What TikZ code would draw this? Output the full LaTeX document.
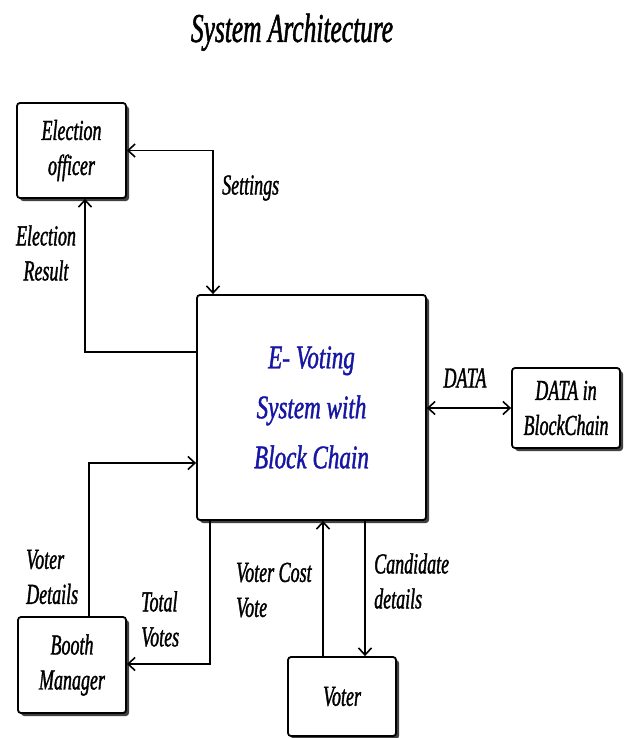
\documentclass[tikz,border=0pt]{standalone}
\usepackage{fontspec}
\setmainfont[FakeStretch=0.62,FakeBold=1.2]{Liberation Serif}
\newfontfamily\boxfont[FakeStretch=0.7,FakeBold=1.2]{Liberation Serif}
\usetikzlibrary{arrows.meta,shadows}
\definecolor{sysblue}{RGB}{22,22,165}
\newcommand\lblfont{\fontsize{29}{35}\selectfont\itshape}
\newcommand\titlefont{\fontsize{41}{48}\selectfont\itshape}
\newcommand\sysfont{\boxfont\fontsize{33}{50}\selectfont\itshape}
\begin{document}
\begin{tikzpicture}[x=1pt,y=-1pt,
  every node/.style={font=\lblfont, inner sep=0pt},
  actor/.style={draw, line width=1.8pt, rounded corners=3pt, fill=white,
    align=center,
    drop shadow={shadow xshift=3pt, shadow yshift=-3pt, fill=black!75, opacity=1}},
  flow/.style={line width=1.4pt,
    arrows={-Straight Barb[length=7pt,width=13pt,line width=1.6pt]}},
  biflow/.style={line width=1.4pt,
    arrows={Straight Barb[length=7pt,width=13pt,line width=1.6pt]-Straight Barb[length=7pt,width=13pt,line width=1.6pt]}},
  tag/.style={align=left}]
\useasboundingbox (0,0) rectangle (624,738);

% title
\node[font=\titlefont, anchor=base] (title) at (292,42) {System Architecture};

% boxes
\node[actor, minimum width=109pt, minimum height=95pt] (officer) at (71.5,150.5) {Election\\officer};
\node[actor, minimum width=229pt, minimum height=225pt, font=\sysfont, text=sysblue] (sys) at (311.5,407.5) {E- Voting\\System with\\Block Chain};
\node[actor, minimum width=108pt, minimum height=80pt] (chain) at (566,408) {DATA in\\BlockChain};
\node[actor, minimum width=108pt, minimum height=96pt] (booth) at (72,665) {Booth\\Manager};
\node[actor, minimum width=108pt, minimum height=79pt] (voter) at (342,696.5) {Voter};

% bend points of the connectors
\coordinate (setbend) at (213,150.5);
\coordinate (resbend) at (85,352);
\coordinate (detbend) at (89,463);
\coordinate (totbend) at (210,664);
\coordinate (castx) at (323,600);
\coordinate (candx) at (365,600);

% connectors
\draw[biflow] (officer.east) -| (sys.north -| setbend);
\draw[flow] (sys.west |- resbend) -| (officer.south -| resbend);
\draw[biflow] (sys.east |- chain.west) -- (chain.west);
\draw[flow] (booth.north -| detbend) |- (sys.west |- detbend);
\draw[flow] (sys.south -| totbend) |- (booth.east |- totbend);
\draw[flow] (voter.north -| castx) -- (sys.south -| castx);
\draw[flow] (sys.south -| candx) -- (voter.north -| candx);

% connector labels
\node[anchor=west] (lset) at (222,188) {Settings};
\node[align=center] (lres) at (46,253) {Election\\Result};
\node (ldata) at (465,378) {DATA};
\node[tag, anchor=west] (ldet) at (26,577) {Voter\\Details};
\node[tag, anchor=west] (ltot) at (141,619) {Total\\Votes};
\node[tag, anchor=west] (lcast) at (236,590) {Voter Cost\\Vote};
\node[tag, anchor=west] (lcand) at (374,581) {Candidate\\details};
\end{tikzpicture}
\end{document}
